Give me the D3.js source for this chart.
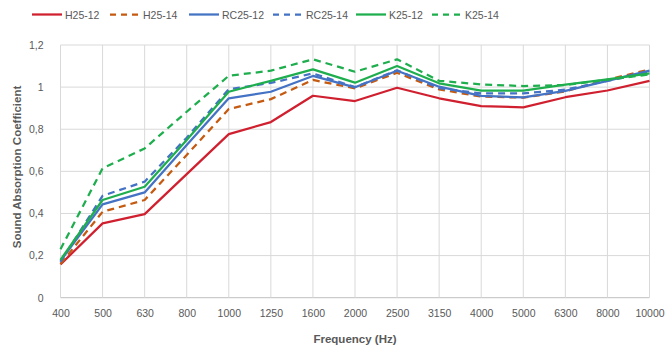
<!DOCTYPE html>
<html><head><meta charset="utf-8">
<script src="https://cdn.jsdelivr.net/npm/d3@7"></script>
<style>
body{margin:0;background:#fff;}
svg text{font-family:"Liberation Sans",Arial,sans-serif;fill:#595959;}
</style></head>
<body><svg id="c" width="671" height="348"></svg>
<script>
const categories = ["400","500","630","800","1000","1250","1600","2000","2500","3150","4000","5000","6300","8000","10000"];
const seriesNames = ["H25-12","H25-14","RC25-12","RC25-14","K25-12","K25-14"];
const H25_12  = [0.158,0.353,0.397,0.587,0.777,0.834,0.959,0.934,0.997,0.947,0.910,0.904,0.952,0.984,1.030];
const H25_14  = [0.160,0.408,0.464,0.678,0.896,0.943,1.034,0.994,1.068,0.989,0.955,0.950,0.980,1.035,1.084];
const RC25_12 = [0.175,0.443,0.500,0.725,0.947,0.978,1.053,0.999,1.078,1.002,0.958,0.951,0.982,1.030,1.078];
const RC25_14 = [0.170,0.484,0.551,0.760,0.990,1.020,1.065,1.000,1.080,0.995,0.970,0.970,0.988,1.030,1.070];
const K25_12  = [0.180,0.464,0.527,0.749,0.978,1.030,1.084,1.021,1.100,1.018,0.983,0.983,1.012,1.037,1.065];
const K25_14  = [0.230,0.614,0.709,0.883,1.054,1.078,1.132,1.073,1.132,1.030,1.013,1.005,1.010,1.035,1.060];
const yTicks = [0,0.2,0.4,0.6,0.8,1,1.2];

const values = [H25_12,H25_14,RC25_12,RC25_14,K25_12,K25_14];
const colors = ["#d0202f","#c55a11","#4472c4","#4472c4","#1fae4e","#1fae4e"];
const dashed = [false,true,false,true,false,true];

const svg = d3.select("#c");
const x = d3.scalePoint().domain(categories).range([60.5,649.5]);
const y = d3.scaleLinear().domain([0,1.2]).range([297.7,45]);
const fmt = v => String(+v.toFixed(1)).replace(".",",");

// gridlines
const g = svg.append("g");
g.selectAll(".hg").data(yTicks).join("line")
 .attr("x1",x.range()[0]).attr("x2",x.range()[1])
 .attr("y1",d=>y(d)).attr("y2",d=>y(d))
 .attr("stroke",d=>d===0?"#bfbfbf":"#d9d9d9").attr("stroke-width",1);
g.selectAll(".vg").data(categories).join("line")
 .attr("x1",d=>x(d)).attr("x2",d=>x(d))
 .attr("y1",y(0)).attr("y2",y(1.2))
 .attr("stroke","#d9d9d9").attr("stroke-width",1);

// y axis labels
const yAxis = d3.axisLeft(y).tickValues(yTicks).tickFormat(fmt).tickSize(0).tickPadding(17);
svg.append("g").attr("transform",`translate(${x.range()[0]},0)`).call(yAxis)
 .call(s=>s.select(".domain").remove())
 .call(s=>s.selectAll("text").attr("font-size","10.5px").attr("fill","#595959").attr("font-family","Liberation Sans, Arial, sans-serif"));

// x axis labels
const xAxis = d3.axisBottom(x).tickSize(0).tickPadding(12);
svg.append("g").attr("transform",`translate(0,${y(0)})`).call(xAxis)
 .call(s=>s.select(".domain").remove())
 .call(s=>s.selectAll("text").attr("font-size","10.5px").attr("fill","#595959").attr("font-family","Liberation Sans, Arial, sans-serif"));

// lines
const line = d3.line().x((d,i)=>x(categories[i])).y(d=>y(d));
values.forEach((vals,k)=>{
  svg.append("path").datum(vals).attr("d",line)
   .attr("fill","none").attr("stroke",colors[k]).attr("stroke-width",2.25)
   .attr("stroke-linejoin","round")
   .attr("stroke-dasharray",dashed[k]?"7,5":null);
});

// legend
const legX = [32,110,189,273,356,432];
const leg = svg.append("g");
seriesNames.forEach((n,k)=>{
  leg.append("line").attr("x1",legX[k]).attr("x2",legX[k]+30).attr("y1",14.5).attr("y2",14.5)
   .attr("stroke",colors[k]).attr("stroke-width",2.25)
   .attr("stroke-dasharray",dashed[k]?"6,5":null);
  leg.append("text").attr("x",legX[k]+33).attr("y",18.5).attr("font-size","10.5px").text(n);
});

// axis titles
svg.append("text").attr("x",355).attr("y",343).attr("text-anchor","middle")
 .attr("font-size","11.5px").attr("font-weight","bold").text("Frequency (Hz)");
svg.append("text").attr("transform","translate(21,167) rotate(-90)").attr("text-anchor","middle")
 .attr("font-size","11.5px").attr("font-weight","bold").text("Sound Absorption Coefficient");
</script></body></html>
